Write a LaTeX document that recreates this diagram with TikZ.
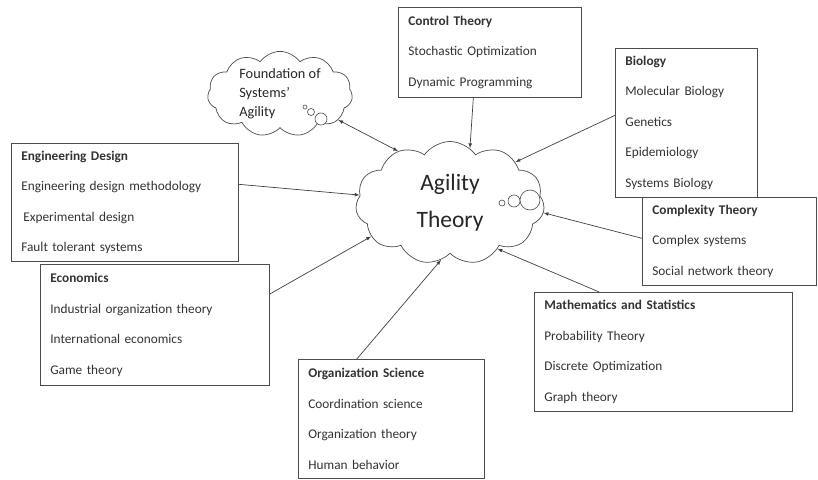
\documentclass[tikz,border=0pt]{standalone}
\usepackage{fontspec}
\setmainfont{Carlito}
\usetikzlibrary{shapes.symbols,positioning,arrows}

\begin{document}
\begin{tikzpicture}[x=1pt, y=-1pt, >=latex,
    area/.style={rectangle, draw=black!70, line width=0.7pt, text width=#1, inner xsep=10pt,
      below right, align=left, text=black!80, font=\fontsize{13.3}{30.5}\selectfont},
    idea/.style={cloud, draw=black!70, line width=0.7pt, cloud puffs=11, cloud puff arc=110,
      cloud ignores aspect, inner sep=0pt, text=black!85},
    bubble/.style={draw=black!70, line width=0.6pt, fill=white},
    link/.style={->, draw=black!75, line width=0.7pt}]
  \useasboundingbox (0,0) rectangle (818,479);
  % \draw[help lines, step=50] (0,0) grid (818,479);

  % the two clouds
  \node (agility) [idea, minimum width=189pt, minimum height=123pt, align=center,
    font=\fontsize{23.5}{37}\selectfont] at (450,203) {Agility\\Theory};
  \node (found) [idea, minimum width=145pt, minimum height=83pt, align=left,
    font=\fontsize{14.3}{19}\selectfont] at (280,94) {Foundation of\\Systems'\\Agility};

  \draw[bubble] (502,203) circle (3pt);
  \draw[bubble] (514,201) circle (6pt);
  \draw[bubble] (530,200) circle (10pt);
  \draw[bubble] (305,107) circle (2pt);
  \draw[bubble] (311,112) circle (3.5pt);
  \draw[bubble] (321,119) circle (6pt);

  % fields around it
  \node (ctrl) [area=163pt, minimum height=90pt] at (398,7)
    {\textbf{Control Theory}\\Stochastic Optimization\\Dynamic Programming};
  \node (bio) [area=122pt, minimum height=149pt] at (615,48)
    {\textbf{Biology}\\Molecular Biology\\Genetics\\Epidemiology\\Systems Biology};
  \node (cplx) [area=154pt, minimum height=88pt] at (642,197)
    {\textbf{Complexity Theory}\\Complex systems\\Social network theory};
  \node (math) [area=238pt, minimum height=119pt] at (534,292)
    {\textbf{Mathematics and Statistics}\\Probability Theory\\Discrete Optimization\\Graph theory};
  \node (org) [area=166pt, minimum height=119pt] at (298,359)
    {\textbf{Organization Science}\\Coordination science\\Organization theory\\Human behavior};
  \node (econ) [area=209pt, minimum height=121pt] at (40,264)
    {\textbf{Economics}\\Industrial organization theory\\International economics\\Game theory};
  \node (eng) [area=207pt, minimum height=118pt] at (11,143)
    {\textbf{Engineering Design}\\Engineering design methodology\\\hspace{2pt}Experimental design\\Fault tolerant systems};

  % arrows into the cloud
  \draw[<->, draw=black!75, line width=0.7pt] (found.336.7) -- (agility.135);
  \draw[link] (ctrl.250.4) -- (agility.70);
  \draw[link] (bio.174.8) -- (agility.32);
  \draw[link] (cplx.178) -- (agility.354.6);
  \draw[link] (math.137.7) -- (agility.316.7);
  \draw[link] (org.120.8) -- (agility.261.3);
  \draw[link] (econ.15.8) -- (agility.203.7);
  \draw[link] (eng.9.5) -- (agility.175.8);
\end{tikzpicture}
\end{document}
